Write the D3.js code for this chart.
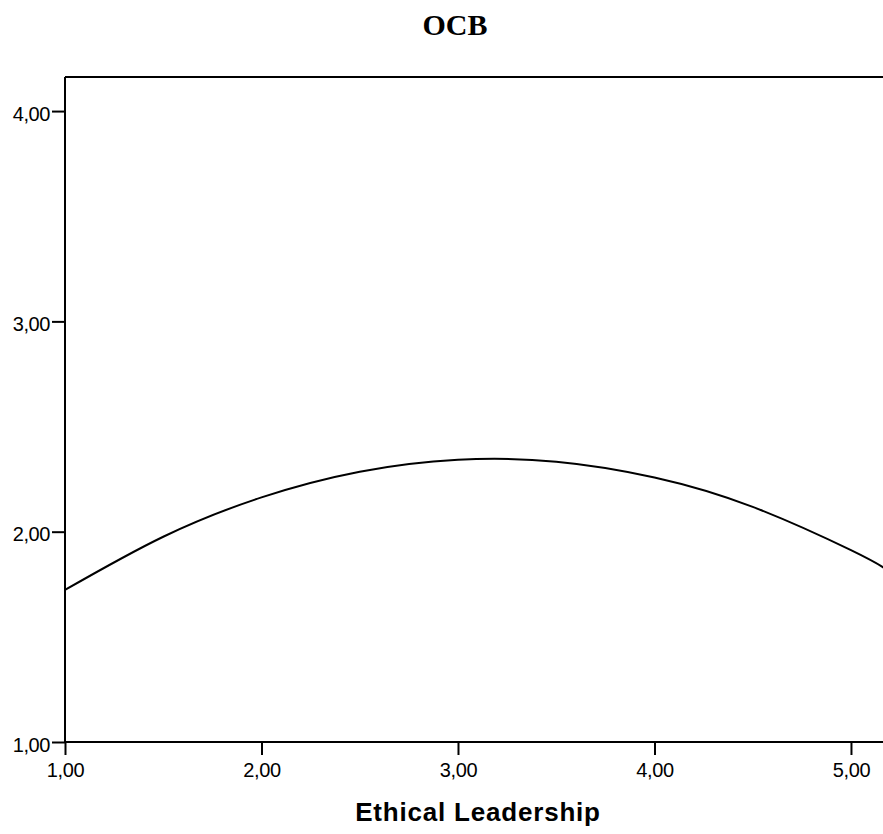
<!DOCTYPE html>
<html>
<head>
<meta charset="utf-8">
<script src="https://cdn.jsdelivr.net/npm/d3@7"></script>
<style>
  html, body { margin: 0; padding: 0; background: #fff; overflow: hidden; }
</style>
</head>
<body>
<div id="chart"></div>
<script>
// Values
var xTicks = [1, 2, 3, 4, 5];
var yTicks = [1, 2, 3, 4];
var leadership = [1.0, 1.5, 2.0, 2.5, 3.0, 3.5, 4.0, 4.5, 5.0, 5.17];
var ocb = [1.723, 1.976, 2.163, 2.285, 2.342, 2.333, 2.258, 2.118, 1.912, 1.827];

var width = 883, height = 834;
var margin = {top: 77, right: 0, bottom: 92, left: 65};

var svg = d3.select('#chart').append('svg')
  .attr('width', width)
  .attr('height', height)
  .attr('viewBox', `0 0 ${width} ${height}`);

var x = d3.scaleLinear()
  .domain([1, 5.163])
  .range([margin.left, width - margin.right]);

var y = d3.scaleLinear()
  .domain([1, 4.162])
  .range([height - margin.bottom, margin.top]);

var fmt = d => d3.format(".2f")(d).replace(".", ",");

// frame (top edge)
svg.append("line")
  .attr("x1", margin.left).attr("x2", width + 10)
  .attr("y1", margin.top).attr("y2", margin.top)
  .attr("stroke", "#000").attr("stroke-width", 2);

var xAxis = g => g
  .attr("transform", `translate(0,${y(1)})`)
  .call(d3.axisBottom(x).tickValues(xTicks).tickFormat(fmt)
    .tickSizeInner(13).tickSizeOuter(0).tickPadding(8))
  .call(g => g.select(".domain").attr("stroke-width", 2).attr("d", `M${margin.left},0H${width + 10}`))
  .call(g => g.selectAll(".tick line").attr("stroke-width", 2))
  .call(g => g.selectAll(".tick text")
    .attr("fill", "#000")
    .attr("font-family", "Liberation Sans, Arial, sans-serif")
    .attr("font-size", "20px")
    .attr("letter-spacing", "-0.4px"));

var yAxis = g => g
  .attr("transform", `translate(${x(1)},0)`)
  .call(d3.axisLeft(y).tickValues(yTicks).tickFormat(fmt)
    .tickSizeInner(13).tickSizeOuter(0).tickPadding(2))
  .call(g => g.select(".domain").attr("stroke-width", 2).attr("d", `M0,${margin.top}V${y(1)}`))
  .call(g => g.selectAll(".tick line").attr("stroke-width", 2))
  .call(g => g.selectAll(".tick text")
    .attr("fill", "#000")
    .attr("dy", "0.45em")
    .attr("font-family", "Liberation Sans, Arial, sans-serif")
    .attr("font-size", "20px")
    .attr("letter-spacing", "-0.4px"));

svg.append("g").call(xAxis);
svg.append("g").call(yAxis);

var line = d3.line()
  .x((d, i) => x(leadership[i]))
  .y(d => y(d))
  .curve(d3.curveNatural);

svg.append("path")
  .datum(ocb)
  .attr("fill", "none")
  .attr("stroke", "#000")
  .attr("stroke-width", 2)
  .attr("d", line);

// title
svg.append("text")
  .attr("x", 455)
  .attr("y", 35)
  .attr("text-anchor", "middle")
  .attr("font-family", "Liberation Serif, Times New Roman, serif")
  .attr("font-weight", "bold")
  .attr("font-size", "30px")
  .text("OCB");

// x axis title
svg.append("text")
  .attr("x", 478)
  .attr("y", 821)
  .attr("text-anchor", "middle")
  .attr("font-family", "Liberation Sans, Arial, sans-serif")
  .attr("font-weight", "bold")
  .attr("font-size", "26px")
  .attr("letter-spacing", "0.8px")
  .text("Ethical Leadership");
</script>
</body>
</html>
